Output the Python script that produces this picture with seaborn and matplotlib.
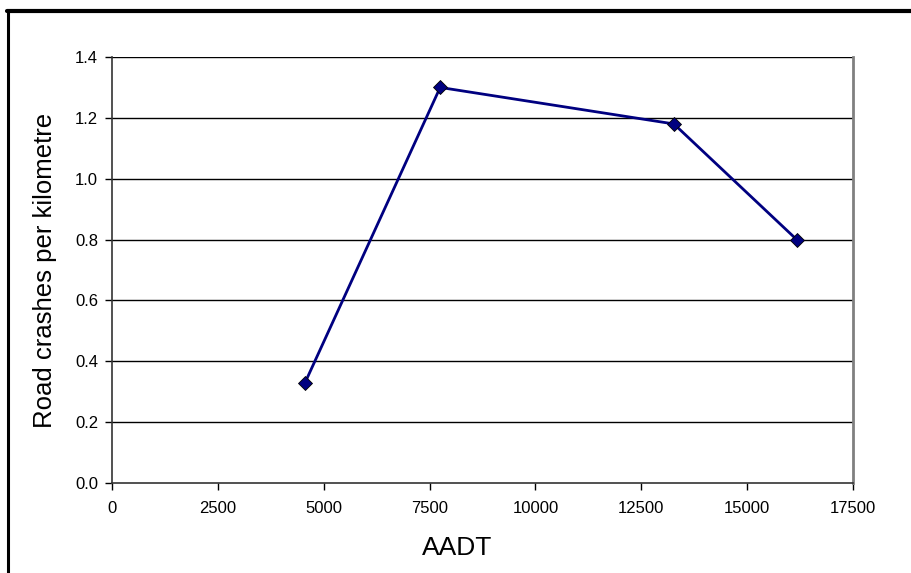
import matplotlib
matplotlib.use("Agg")
import matplotlib.pyplot as plt
import seaborn as sns
import pandas as pd
from matplotlib.lines import Line2D

# Average annual daily traffic vs crash rate
aadt = [4560, 7750, 13270, 16170]
crashes_per_km = [0.33, 1.30, 1.18, 0.80]
x_ticks = [0, 2500, 5000, 7500, 10000, 12500, 15000, 17500]
y_ticks = [0.0, 0.2, 0.4, 0.6, 0.8, 1.0, 1.2, 1.4]

df = pd.DataFrame({"AADT": aadt, "crashes": crashes_per_km})

sns.set_theme(style="white")
plt.rcParams["font.family"] = ["Liberation Sans", "DejaVu Sans"]

fig = plt.figure(figsize=(9.11, 5.73), dpi=100)
ax = fig.add_axes([112 / 911, 90 / 573, 741 / 911, 426 / 573])

# horizontal gridlines
for y in y_ticks[1:]:
    ax.axhline(y, color="black", lw=1.0, zorder=1)

sns.lineplot(data=df, x="AADT", y="crashes", ax=ax, color="#000080",
             lw=2.0, marker="D", markersize=7.5, markerfacecolor="#000080",
             markeredgecolor="black", markeredgewidth=0.6, zorder=3)

ax.set_xlim(0, 17500)
ax.set_ylim(0, 1.4)
ax.set_xticks(x_ticks)
ax.set_xticklabels([str(v) for v in x_ticks])
ax.set_yticks(y_ticks)
ax.set_yticklabels([f"{v:.1f}" for v in y_ticks])
ax.tick_params(axis="both", direction="out", length=5, width=1,
               color="black", labelsize=12, labelcolor="black", pad=5,
               left=True, bottom=True)
ax.tick_params(axis="x", pad=8)

ax.set_xlabel("AADT", fontsize=19, color="black")
ax.xaxis.set_label_coords((457 - 112) / 741, -(548 - 483) / 426,
                          transform=ax.transAxes)
ax.xaxis.label.set_va("center")
ax.set_ylabel("Road crashes per kilometre", fontsize=18.5, color="black")
ax.yaxis.set_label_coords(-(112 - 45) / 741, 0.5, transform=ax.transAxes)
ax.yaxis.label.set_va("center")

for side in ["left", "bottom"]:
    ax.spines[side].set_color("#333333")
    ax.spines[side].set_linewidth(1.2)
ax.spines["top"].set_visible(False)
ax.spines["right"].set_color("#808080")
ax.spines["right"].set_linewidth(2)

# outer frame around the chart
fig.add_artist(Line2D([7.5 / 911, 7.5 / 911], [0, 1 - 11 / 573],
                      transform=fig.transFigure, color="black", lw=2.2))
fig.add_artist(Line2D([6.5 / 911, 1], [1 - 11 / 573, 1 - 11 / 573],
                      transform=fig.transFigure, color="black", lw=3))

fig.savefig("out.png", dpi=100, facecolor="white")
